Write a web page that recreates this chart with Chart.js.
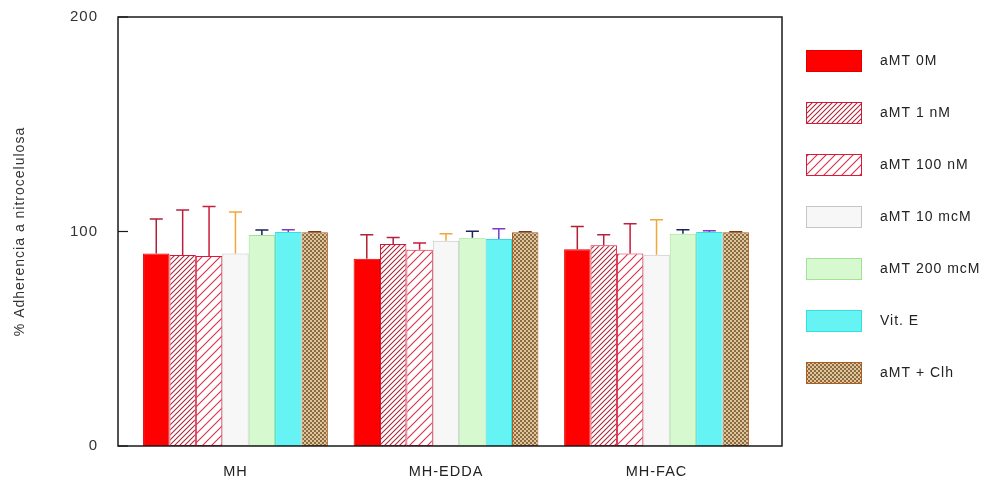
<!DOCTYPE html>
<html lang="es">
<head>
<meta charset="utf-8">
<title>Adherencia a nitrocelulosa</title>
<script src="https://cdn.jsdelivr.net/npm/chart.js@4.4.1/dist/chart.umd.min.js"></script>
<style>
    html, body { margin: 0; padding: 0; background: #ffffff; }
    #contenedor { width: 996px; height: 479px; position: relative; }
</style>
</head>
<body>
<div id="contenedor"><canvas id="grafico"></canvas></div>
<script>
// ===== DATOS =====
const grupos = ['MH', 'MH-EDDA', 'MH-FAC'];
const series = ['aMT 0M', 'aMT 1 nM', 'aMT 100 nM', 'aMT 10 mcM', 'aMT 200 mcM', 'Vit. E', 'aMT + Clh'];

const aMT0M = [89.8, 87.3, 91.7];
const aMT1nM = [89.0, 94.2, 93.6];
const aMT100nM = [88.6, 91.5, 89.8];
const aMT10mcM = [89.8, 95.7, 89.2];
const aMT200mcM = [98.4, 97.1, 99.0];
const vitE = [99.8, 96.5, 99.8];
const aMTClh = [99.6, 99.6, 99.6];

// desviaciones (solo se dibuja la mitad superior)
const err0M = [16, 11.2, 10.6];
const err1nM = [21, 3, 4.9];
const err100nM = [23, 3.1, 13.8];
const err10mcM = [19.3, 3.3, 16.3];
const err200mcM = [2.3, 3, 1.8];
const errVitE = [1, 4.8, 0.5];
const errClh = [0.3, 0.3, 0.3];

const ticksY = [0, 100, 200];

// ===== PATRONES =====
function rayado(color, paso, grosor) {
    const c = document.createElement('canvas');
    c.width = paso;
    c.height = paso;
    const ctx = c.getContext('2d');
    ctx.fillStyle = '#ffffff';
    ctx.fillRect(0, 0, paso, paso);
    ctx.strokeStyle = color;
    ctx.lineWidth = grosor;
    ctx.beginPath();
    ctx.moveTo(-1, paso + 1);
    ctx.lineTo(paso + 1, -1);
    ctx.moveTo(-1, 1);
    ctx.lineTo(1, -1);
    ctx.moveTo(paso - 1, paso + 1);
    ctx.lineTo(paso + 1, paso - 1);
    ctx.stroke();
    return ctx.createPattern(c, 'repeat');
}

function cuadriculado(a, b) {
    const c = document.createElement('canvas');
    c.width = 4;
    c.height = 4;
    const ctx = c.getContext('2d');
    ctx.fillStyle = a;
    ctx.fillRect(0, 0, 4, 4);
    ctx.fillStyle = b;
    ctx.fillRect(0, 0, 2, 2);
    ctx.fillRect(2, 2, 2, 2);
    return ctx.createPattern(c, 'repeat');
}

const estilos = [
    { fondo: '#ff0000', borde: '#e00000', error: '#b02034' },
    { fondo: rayado('#a82a3c', 5, 1.1), borde: '#d01838', error: '#b82040' },
    { fondo: rayado('#d83048', 9, 1.1), borde: '#e01838', error: '#c81c3c' },
    { fondo: '#f7f7f7', borde: '#c4c4c4', error: '#f0a838' },
    { fondo: '#d6f9cf', borde: '#a2e294', error: '#18245a' },
    { fondo: '#66f3f3', borde: '#34dede', error: '#7a3cc8' },
    { fondo: cuadriculado('#dcc69a', '#8c6a44'), borde: '#b45a1c', error: '#7a3a18' }
];

const valores = [aMT0M, aMT1nM, aMT100nM, aMT10mcM, aMT200mcM, vitE, aMTClh];
const errores = [err0M, err1nM, err100nM, err10mcM, err200mcM, errVitE, errClh];

const FUENTE = '"Liberation Sans", Arial, sans-serif';

// ===== PLUGINS =====
const marcoYErrores = {
    id: 'marcoYErrores',
    beforeDraw(chart) {
        // el texto del original es algo más espaciado
        chart.ctx.letterSpacing = '1px';
    },
    afterDatasetsDraw(chart) {
        const ctx = chart.ctx;
        const y = chart.scales.y;
        chart.data.datasets.forEach((ds, i) => {
            const meta = chart.getDatasetMeta(i);
            ctx.save();
            ctx.strokeStyle = ds.errorColor;
            ctx.lineWidth = 1.5;
            meta.data.forEach((bar, j) => {
                const top = y.getPixelForValue(ds.data[j].y + ds.errores[j]);
                ctx.beginPath();
                ctx.moveTo(bar.x, bar.y);
                ctx.lineTo(bar.x, top);
                ctx.moveTo(bar.x - 6.5, top);
                ctx.lineTo(bar.x + 6.5, top);
                ctx.stroke();
            });
            ctx.restore();
        });
    },
    afterDraw(chart) {
        const ctx = chart.ctx;
        const a = chart.chartArea;
        const y = chart.scales.y;
        ctx.save();
        // marco
        ctx.strokeStyle = '#1a1a1a';
        ctx.lineWidth = 1.5;
        ctx.strokeRect(a.left, a.top, a.right - a.left, a.bottom - a.top);
        // marcas hacia dentro
        ctx.lineWidth = 1.2;
        ticksY.forEach(v => {
            const py = y.getPixelForValue(v);
            ctx.beginPath();
            ctx.moveTo(a.left, py);
            ctx.lineTo(a.left + 10, py);
            ctx.stroke();
        });
        // leyenda
        ctx.font = '14px ' + FUENTE;
        ctx.letterSpacing = '1px';
        ctx.textBaseline = 'middle';
        chart.data.datasets.forEach((ds, i) => {
            const top = 50 + i * 52;
            ctx.fillStyle = ds.backgroundColor;
            ctx.fillRect(806, top, 55, 21);
            ctx.strokeStyle = ds.borderColor;
            ctx.lineWidth = 1;
            ctx.strokeRect(806.5, top + 0.5, 55, 21);
            ctx.fillStyle = '#222222';
            ctx.fillText(ds.label, 880, top + 11);
        });
        ctx.restore();
    }
};

// ===== GRÁFICO =====
const datasets = series.map((nombre, i) => ({
    label: nombre,
    data: valores[i].map((v, j) => ({ x: j, y: v })),
    errores: errores[i],
    errorColor: estilos[i].error,
    backgroundColor: estilos[i].fondo,
    borderColor: estilos[i].borde,
    borderWidth: 1,
    borderSkipped: false,
    categoryPercentage: 0.878,
    barPercentage: 1
}));

new Chart(document.getElementById('grafico'), {
    type: 'bar',
    data: { datasets: datasets },
    options: {
        responsive: true,
        maintainAspectRatio: false,
        animation: false,
        layout: { padding: { top: 17, right: 214, left: 0, bottom: 0 } },
        plugins: {
            legend: { display: false },
            tooltip: { enabled: false }
        },
        scales: {
            x: {
                type: 'linear',
                offset: false,
                min: -0.558,
                max: 2.596,
                afterBuildTicks: scale => {
                    scale.ticks = grupos.map((g, i) => ({ value: i }));
                },
                afterFit: scale => { scale.height = 33; },
                grid: { display: false, drawTicks: false, offset: false },
                border: { display: false },
                ticks: {
                    padding: 17,
                    color: '#222222',
                    font: { family: 'Liberation Sans', size: 14.5 },
                    callback: v => grupos[v]
                }
            },
            y: {
                min: 0,
                max: 200,
                afterBuildTicks: scale => {
                    scale.ticks = ticksY.map(v => ({ value: v }));
                },
                afterFit: scale => {
                    scale.width = 118;
                    scale.paddingTop = 0;
                    scale.paddingBottom = 0;
                },
                grid: { display: false, drawTicks: false },
                border: { display: false },
                ticks: {
                    padding: 20,
                    color: '#333333',
                    font: { family: 'Liberation Sans', size: 15 }
                },
                title: {
                    display: true,
                    text: '% Adherencia a nitrocelulosa',
                    color: '#333333',
                    padding: { top: 12, bottom: 0 },
                    font: { family: 'Liberation Sans', size: 14 }
                }
            }
        }
    },
    plugins: [marcoYErrores]
});
</script>
</body>
</html>
